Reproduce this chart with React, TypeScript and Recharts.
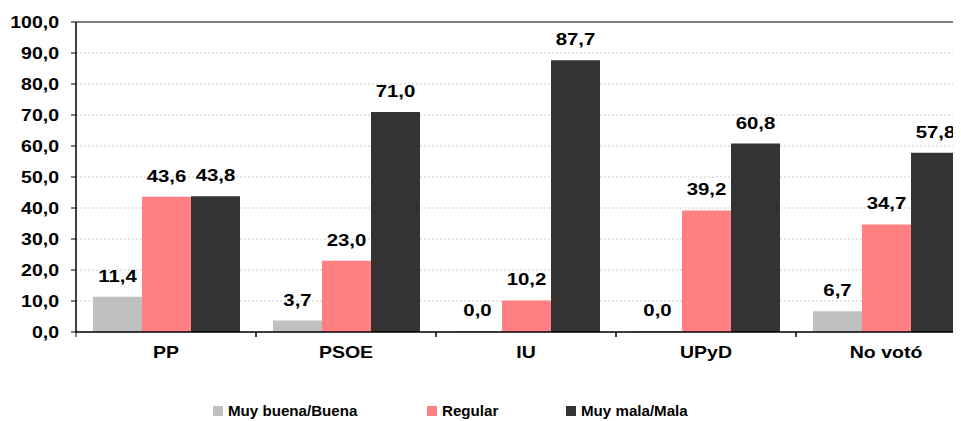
import { BarChart, Bar, XAxis, YAxis, CartesianGrid, LabelList, ReferenceLine } from 'recharts';

const categories = ['PP', 'PSOE', 'IU', 'UPyD', 'No votó'];
const buena = [11.4, 3.7, 0.0, 0.0, 6.7];
const regular = [43.6, 23.0, 10.2, 39.2, 34.7];
const mala = [43.8, 71.0, 87.7, 60.8, 57.8];
const yTicks = [0, 10, 20, 30, 40, 50, 60, 70, 80, 90, 100];

const series = [
  { key: 'buena', name: 'Muy buena/Buena', color: '#c0c0c0' },
  { key: 'regular', name: 'Regular', color: '#ff8080' },
  { key: 'mala', name: 'Muy mala/Mala', color: '#333333' },
];

const data = categories.map((c, i) => ({
  category: c,
  buena: buena[i],
  regular: regular[i],
  mala: mala[i],
}));

const font = 'Arial, "Liberation Sans", sans-serif';
const fmt = (v: unknown) => (typeof v === 'number' ? v.toFixed(1).replace('.', ',') : '');

// Excel-style wide bold text
const WideText = ({ x, y, anchor, size, sx, children }: any) => (
  <text
    transform={`translate(${x},${y}) scale(${sx},1)`}
    textAnchor={anchor}
    fontFamily={font}
    fontWeight="bold"
    fontSize={size}
    fill="#000"
  >
    {children}
  </text>
);

const CategoryTick = (props: any) => {
  const { x, payload } = props;
  const half = payload.offset ?? 90;
  return (
    <g>
      <line x1={x - half} x2={x - half} y1={332} y2={337} stroke="#000" />
      <line x1={x + half} x2={x + half} y1={332} y2={337} stroke="#000" />
      <WideText x={x} y={358} anchor="middle" size={16} sx={1.22}>
        {payload.value}
      </WideText>
    </g>
  );
};

const ValueTick = (props: any) => {
  const { x, y, payload } = props;
  return (
    <WideText x={x} y={y + 6} anchor="end" size={16} sx={1.22}>
      {fmt(payload.value)}
    </WideText>
  );
};

const BarValue = (props: any) => {
  const { x, y, width, value } = props;
  if (x == null || y == null) return null;
  return (
    <WideText x={Number(x) + Number(width) / 2} y={Number(y) - 15} anchor="middle" size={17} sx={1.2}>
      {fmt(value)}
    </WideText>
  );
};

const legendPos = [213, 427, 566];

export default function App() {
  return (
    <div style={{ position: 'relative', marginLeft: -8, marginTop: -8, width: 990, height: 421, overflow: 'hidden' }}>
      <BarChart
        width={990}
        height={421}
        data={data}
        margin={{ top: 22, right: 14, left: 0, bottom: 0 }}
        barCategoryGap={17}
        barGap={0}
      >
        <CartesianGrid vertical={false} stroke="#cfcfcf" strokeDasharray="2 2" />
        <XAxis
          dataKey="category"
          height={89}
          axisLine={{ stroke: '#000', strokeWidth: 1.5 }}
          tickLine={false}
          tick={<CategoryTick />}
          interval={0}
        />
        <YAxis
          width={76}
          domain={[0, 100]}
          ticks={yTicks}
          axisLine={{ stroke: '#000', strokeWidth: 1.5 }}
          tickLine={{ stroke: '#000' }}
          tickSize={5}
          tickMargin={12}
          tick={<ValueTick />}
        />
        <ReferenceLine y={100} stroke="#808080" strokeWidth={2} />
        {series.map((s) => (
          <Bar
            key={s.key}
            dataKey={s.key}
            name={s.name}
            fill={s.color}
            minPointSize={1}
            isAnimationActive={false}
          >
            <LabelList dataKey={s.key} content={<BarValue />} />
          </Bar>
        ))}
      </BarChart>
      {series.map((s, i) => (
        <div
          key={s.key}
          style={{
            position: 'absolute',
            left: legendPos[i],
            top: 403,
            display: 'flex',
            alignItems: 'center',
            fontFamily: font,
            fontWeight: 'bold',
            fontSize: 14,
            lineHeight: '16px',
            whiteSpace: 'nowrap',
          }}
        >
          <span style={{ display: 'inline-block', width: 10, height: 10, background: s.color, marginRight: 5 }} />
          <span style={{ display: 'inline-block', transform: 'scale(1.08,1)', transformOrigin: 'left center' }}>
            {s.name}
          </span>
        </div>
      ))}
    </div>
  );
}
